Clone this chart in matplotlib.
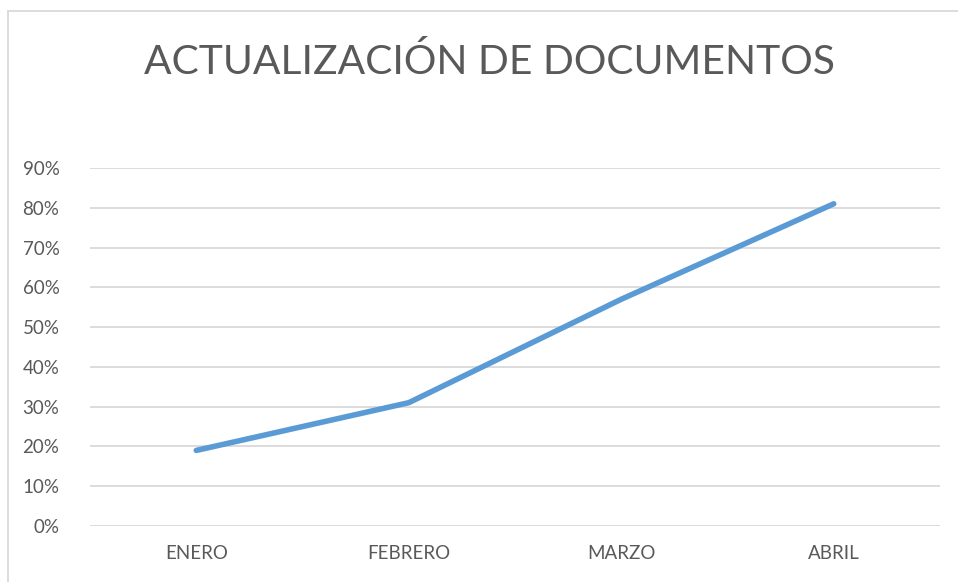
import matplotlib.pyplot as plt
from matplotlib.ticker import PercentFormatter
from matplotlib.lines import Line2D

# datos del gráfico
meses = ['ENERO', 'FEBRERO', 'MARZO', 'ABRIL']
avance = [0.19, 0.31, 0.57, 0.81]
titulo = 'ACTUALIZACIÓN DE DOCUMENTOS'

plt.rcParams['font.family'] = ['Lato', 'DejaVu Sans']

fig = plt.figure(figsize=(9.58, 5.82), dpi=100)
ax = fig.add_axes([90 / 958, 1 - 526 / 582, 850 / 958, 358 / 582])

x = range(len(meses))
ax.plot(x, avance, color='#5B9BD5', linewidth=4.0, solid_capstyle='round', zorder=3)

ax.set_xlim(-0.5, len(meses) - 0.5)
ax.set_ylim(0, 0.9)
ax.set_yticks([i / 10 for i in range(10)])
ax.yaxis.set_major_formatter(PercentFormatter(1.0, decimals=0))
ax.set_xticks(list(x))
ax.set_xticklabels(meses)

ax.grid(axis='y', color='#D9D9D9', linewidth=1.3)
ax.set_axisbelow(True)
for s in ax.spines.values():
    s.set_visible(False)
ax.tick_params(length=0, colors='#595959', labelsize=13.5)
ax.tick_params(axis='y', pad=22)
ax.tick_params(axis='x', pad=14)

fig.text(490 / 958, 1 - 62 / 582, titulo, ha='center', va='center',
         fontsize=29.3, color='#595959')

# borde del área del gráfico (solo arriba e izquierda visibles)
fig.add_artist(Line2D([8 / 958, 1], [1 - 11 / 582, 1 - 11 / 582],
                      transform=fig.transFigure, color='#D9D9D9', linewidth=1.3))
fig.add_artist(Line2D([8 / 958, 8 / 958], [0, 1 - 11 / 582],
                      transform=fig.transFigure, color='#D9D9D9', linewidth=1.3))

fig.savefig('out.png', dpi=100)
